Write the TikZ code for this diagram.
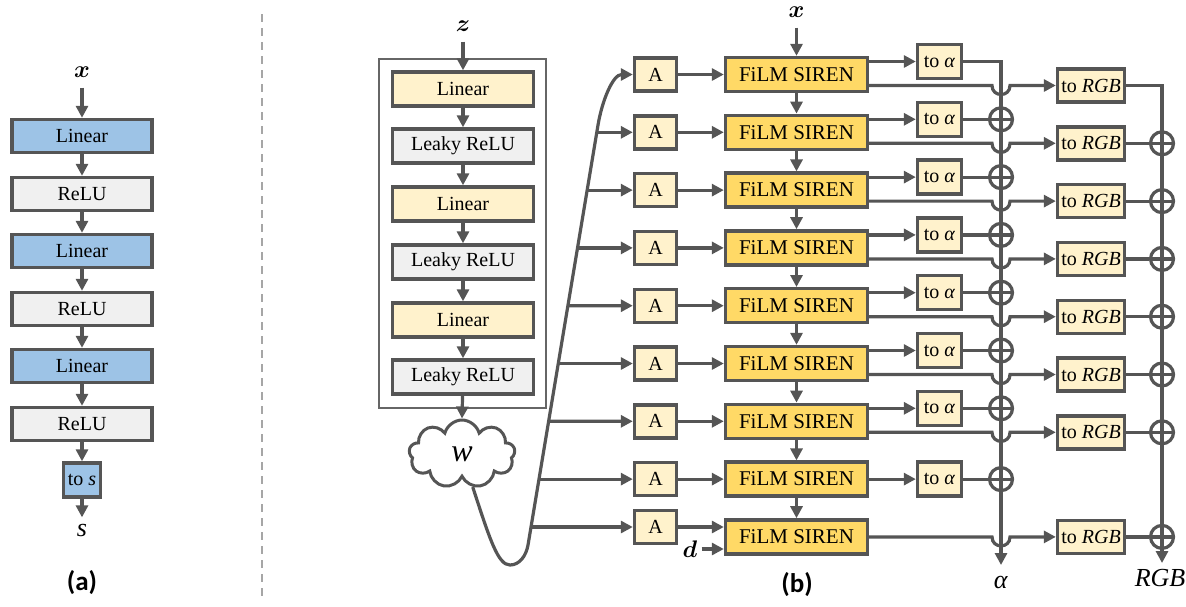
\documentclass[tikz,border=0pt]{standalone}
\usepackage{amsmath}
\usepackage{fontspec}
\setmainfont{Liberation Serif}
\newfontfamily\capfont{Carlito}
\usetikzlibrary{arrows.meta,shapes.symbols,calc}

\definecolor{edge}{HTML}{555555}
\definecolor{lblue}{HTML}{9DC3E6}
\definecolor{lgray}{HTML}{F0F0F0}
\definecolor{lyel}{HTML}{FFF2CC}
\definecolor{gold}{HTML}{FFD966}
\definecolor{sepgray}{HTML}{A6A6A6}

\tikzset{
  blk/.style={draw=edge, line width=1.7pt, inner sep=0pt, minimum height=16.5pt,
    font=\rmfamily\fontsize{10}{12}\selectfont},
  lin/.style={blk, fill=lblue, minimum width=70pt},
  act/.style={blk, fill=lgray, minimum width=70pt},
  mlin/.style={blk, fill=lyel, minimum width=70.5pt, minimum height=17pt},
  mact/.style={blk, fill=lgray, minimum width=70.5pt, minimum height=17pt},
  abox/.style={blk, fill=lyel, minimum width=21pt},
  film/.style={blk, fill=gold, minimum width=71pt, minimum height=17pt,
    font=\rmfamily\fontsize{10.5}{12}\selectfont},
  toa/.style={blk, fill=lyel, minimum width=22pt, minimum height=17pt},
  torgb/.style={blk, fill=lyel, minimum width=33.5pt},
  sum/.style={circle, draw=edge, line width=1.6pt, fill=white, minimum size=11.5pt,
    inner sep=0pt, path picture={\draw[edge, line width=1.6pt]
      (path picture bounding box.north) -- (path picture bounding box.south)
      (path picture bounding box.west) -- (path picture bounding box.east);}},
  wire/.style={draw=edge, line width=1.6pt},
  arr/.style={wire, -{Triangle[length=6pt,width=6pt]}},
  lab/.style={inner sep=0pt, font=\fontsize{12}{14}\selectfont},
  biglab/.style={inner sep=0pt, font=\rmfamily\fontsize{13}{15}\selectfont},
  panellab/.style={inner sep=0pt, font=\capfont\bfseries\fontsize{13.5}{16}\selectfont},
}

\begin{document}
\begin{tikzpicture}[x=0.5pt,y=-0.5pt]
\useasboundingbox (0,0) rectangle (1186,606);

% ---------- (a): small MLP ----------
\node[lab] (ax) at (82,72) {$\boldsymbol{x}$};
\node[lin] (a1) at (82,136) {Linear};
\node[act] (a2) at (82,194) {ReLU};
\node[lin] (a3) at (82,251) {Linear};
\node[act] (a4) at (82,309) {ReLU};
\node[lin] (a5) at (82,366) {Linear};
\node[act] (a6) at (82,424) {ReLU};
\node[blk, fill=lblue, minimum width=18.5pt, minimum height=17pt] (a7) at (82,480) {to \textit{s}};
\node[biglab] (as) at (82,530) {\textit{s}};
\draw[arr, shorten <=5pt] (ax) -- (a1);
\foreach \u/\v in {a1/a2,a2/a3,a3/a4,a4/a5,a5/a6,a6/a7}
  \draw[arr] (\u) -- (\v);
\draw[arr, shorten >=3pt] (a7) -- (as);
\node[panellab] (capa) at (82,583) {(a)};

% ---------- separator ----------
\coordinate (sep1) at (262,14);
\coordinate (sep2) at (262,598);
\draw[sepgray, line width=1pt, dash pattern=on 4pt off 3pt] (sep1) -- (sep2);

% ---------- mapping network ----------
\node[draw=edge!90, line width=0.9pt, minimum width=83.5pt, minimum height=174.5pt,
      inner sep=0pt] (mapnet) at (462.5,233.5) {};
\node[lab] (z) at (463,26) {$\boldsymbol{z}$};
\node[mlin] (m1) at (463,89) {Linear};
\node[mact] (m2) at (463,146) {Leaky ReLU};
\node[mlin] (m3) at (463,204) {Linear};
\node[mact] (m4) at (463,262) {Leaky ReLU};
\node[mlin] (m5) at (463,320) {Linear};
\node[mact] (m6) at (463,377) {Leaky ReLU};
\node[cloud, draw=edge, line width=1.5pt, fill=white, cloud puffs=9, aspect=1.5,
      minimum width=53pt, minimum height=34pt, inner sep=0pt,
      font=\rmfamily\fontsize{16}{18}\selectfont] (w) at (462,454) {\textit{w}};
\draw[arr, shorten <=5pt] (z) -- (m1);
\foreach \u/\v in {m1/m2,m2/m3,m3/m4,m4/m5,m5/m6}
  \draw[arr] (\u) -- (\v);
\draw[arr] (m6) -- (w.north);

% ---------- synthesis rows ----------
\foreach \i in {1,...,9}
  \node[film] (f\i) at (796.5,{74.5+57.8*(\i-1)}) {FiLM SIREN};
\foreach \i in {1,...,8}
  \node[abox] (A\i) at (655.5,{74.5+57.8*(\i-1)}) {A};
\node[abox] (A9) at (655.5,527) {A};

% style vector w fanned out to every A block
\draw[arr] (w.-72) .. controls (490,540) and (498,565) .. (510,565)
  .. controls (520,565) and (526.3,555) .. (528,545) -- (598,125)
  .. controls (602.2,100) and (613,74.5) .. (A1.west);
\foreach \i/\y in {2/132.3,3/190.1,4/247.9,5/305.7,6/363.5,7/421.3,8/479.1,9/527}{
  \coordinate (k\i) at ({528+(545-\y)/6},\y);
  \draw[arr] (k\i) -- (A\i.west);
}
\foreach \i in {1,...,8}
  \draw[arr] (A\i) -- (f\i);
\draw[arr] (A9.east) -- (A9.east -| f9.west);

% inputs x and d
\node[lab] (bx) at (796.5,12) {$\boldsymbol{x}$};
\draw[arr, shorten <=5pt] (bx) -- (f1);
\node[lab] (d) at (690,549) {$\boldsymbol{d}$};
\draw[arr, shorten <=2pt] (d.east) -- (d.east -| f9.west);
\foreach \i [evaluate=\i as \j using int(\i+1)] in {1,...,8}
  \draw[arr] (f\i) -- (f\j);

% output heads
\foreach \i in {1,...,7}{
  \node[toa] (ta\i) at (939.5,{61.5+57.8*(\i-1)}) {to \textit{α}};
  \node[torgb] (tr\i) at (1091,{85.5+57.8*(\i-1)}) {to \textit{RGB}};
  \coordinate (hl\i) at (992,{85.5+57.8*(\i-1)});
  \coordinate (hr\i) at (1010,{85.5+57.8*(\i-1)});
}
\node[toa] (ta8) at (939.5,479.1) {to \textit{α}};
\node[torgb] (tr9) at (1091,536.9) {to \textit{RGB}};
\coordinate (hl9) at (992,536.9);
\coordinate (hr9) at (1010,536.9);

% accumulation lines
\coordinate (aend) at (1001,565);
\coordinate (rend) at (1162,563);
\draw[arr] (ta1.east) -| (aend);
\draw[arr] (tr1.east) -| (rend);

\foreach \i in {1,...,7}{
  \draw[arr] (ta\i.west -| f\i.east) -- (ta\i.west);
  \draw[arr] (hl\i -| f\i.east) -- (hl\i) .. controls +(0,12) and +(0,12) .. (hr\i) -- (tr\i.west);
}
\draw[arr] (f8.east) -- (ta8.west);
\draw[arr] (f9.east) -- (hl9) .. controls +(0,12) and +(0,12) .. (hr9) -- (tr9.west);

\foreach \i in {2,...,7}{
  \node[sum] (sa\i) at (1001,{61.5+57.8*(\i-1)}) {};
  \node[sum] (sr\i) at (1162,{85.5+57.8*(\i-1)}) {};
  \draw[wire] (ta\i.east) -- (sa\i.west);
  \draw[wire] (tr\i.east) -- (sr\i.west);
}
\node[sum] (sa8) at (1001,479.1) {};
\draw[wire] (ta8.east) -- (sa8.west);
\node[sum] (sr9) at (1162,536.9) {};
\draw[wire] (tr9.east) -- (sr9.west);

\node[biglab] (alab) at (1001,582) {\textit{α}};
\node[biglab] (rlab) at (1160,578) {\textit{RGB}};
\node[panellab] (capb) at (797,585) {(b)};
\end{tikzpicture}
\end{document}
